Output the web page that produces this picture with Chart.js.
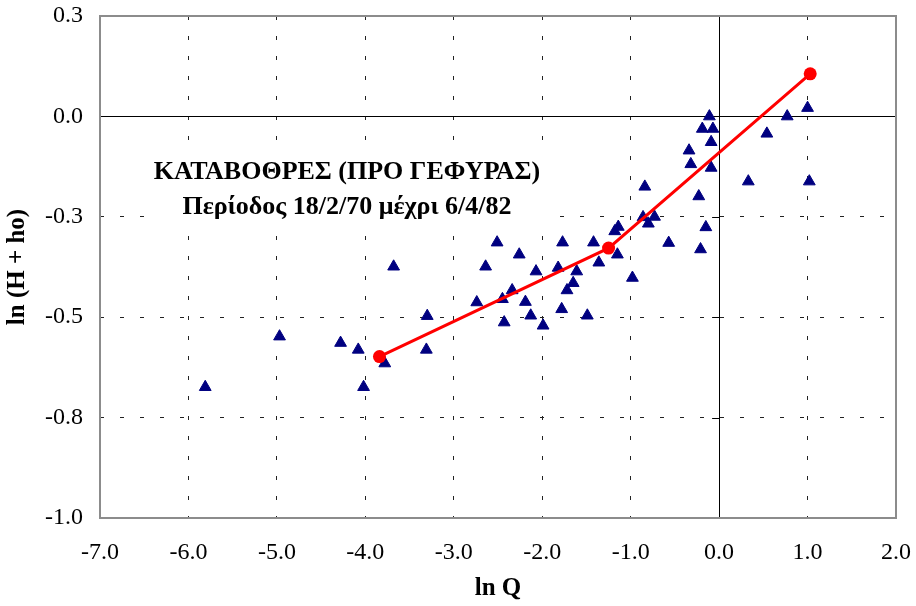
<!DOCTYPE html>
<html>
<head>
<meta charset="utf-8">
<script src="https://cdn.jsdelivr.net/npm/chart.js@4.4.1/dist/chart.umd.min.js"></script>
<style>
  html, body { margin: 0; padding: 0; background: #fff; }
  canvas { display: block; }
</style>
</head>
<body>
<canvas id="chart" width="916" height="606"></canvas>
<script>
// measured points (ln Q, ln(H + ho))
const lnQ = [-5.81, -4.97, -4.28, -4.08, -4.02, -3.78, -3.68, -3.30, -3.31, -2.74,
  -2.64, -2.51, -2.45, -2.43, -2.34, -2.26, -2.19, -2.13, -2.07, -1.99,
  -1.82, -1.77, -1.78, -1.72, -1.65, -1.61, -1.49, -1.42, -1.36, -1.18,
  -1.14, -1.15, -0.98, -0.86, -0.84, -0.80, -0.73, -0.57, -0.34, -0.32,
  -0.23, -0.21, -0.15, -0.19, -0.11, -0.07, -0.09, -0.09, 0.33, 0.54,
  0.77, 1.00, 1.02];
const lnH = [-0.674, -0.548, -0.564, -0.581, -0.674, -0.615, -0.374, -0.497, -0.581, -0.463,
  -0.374, -0.314, -0.455, -0.513, -0.433, -0.344, -0.462, -0.496, -0.386, -0.521,
  -0.377, -0.314, -0.480, -0.433, -0.415, -0.386, -0.496, -0.314, -0.364, -0.286,
  -0.275, -0.344, -0.402, -0.251, -0.175, -0.267, -0.250, -0.315, -0.085, -0.119,
  -0.199, -0.331, -0.276, -0.031, 0.000, -0.031, -0.064, -0.128, -0.162, -0.043,
  0.000, 0.021, -0.162];

// fitted two-segment line
const fitX = [-3.84, -1.25, 1.03];
const fitY = [-0.598, -0.328, 0.106];

const xTicks = [-7, -6, -5, -4, -3, -2, -1, 0, 1, 2];
const yTicks = [0.25, 0, -0.25, -0.5, -0.75, -1];

const titleLines = ['ΚΑΤΑΒΟΘΡΕΣ (ΠΡΟ ΓΕΦΥΡΑΣ)', 'Περίοδος 18/2/70 μέχρι 6/4/82'];

const FONT = '"Liberation Serif", "Times New Roman", serif';

const toPoints = (xs, ys) => xs.map((x, i) => ({ x: x, y: ys[i] }));

// frame, zero axes and the caption box
const decorations = {
  id: 'decorations',
  beforeDatasetsDraw(chart) {
    const { ctx, chartArea: a, scales: { x, y } } = chart;
    const x0 = x.getPixelForValue(0);
    const y0 = y.getPixelForValue(0);
    ctx.save();

    // caption with white background
    ctx.fillStyle = '#fff';
    ctx.fillRect(145, 140, 407, 88);
    ctx.fillStyle = '#000';
    ctx.font = 'bold 26px ' + FONT;
    ctx.textAlign = 'center';
    ctx.textBaseline = 'middle';
    ctx.fillText(titleLines[0], 347, 172);
    ctx.fillText(titleLines[1], 347, 207);

    // zero lines
    ctx.strokeStyle = '#000';
    ctx.lineWidth = 1;
    ctx.beginPath();
    ctx.moveTo(a.left, Math.round(y0) + 0.5);
    ctx.lineTo(a.right, Math.round(y0) + 0.5);
    ctx.moveTo(Math.round(x0) + 0.5, a.top);
    ctx.lineTo(Math.round(x0) + 0.5, a.bottom);
    yTicks.forEach(v => {
      const py = Math.round(y.getPixelForValue(v)) + 0.5;
      ctx.moveTo(x0 - 7, py);
      ctx.lineTo(x0, py);
    });
    ctx.stroke();

    // plot frame
    ctx.strokeStyle = '#8c8c8c';
    ctx.lineWidth = 2;
    ctx.strokeRect(a.left, a.top, a.right - a.left, a.bottom - a.top);
    ctx.restore();
  }
};

const gridColor = (ctx, edges) => {
  const v = ctx.tick ? ctx.tick.value : null;
  return edges.includes(v) ? 'rgba(0,0,0,0)' : '#222';
};

new Chart(document.getElementById('chart'), {
  type: 'scatter',
  data: {
    datasets: [
      {
        type: 'line',
        data: toPoints(fitX, fitY),
        showLine: true,
        borderColor: '#ff0000',
        borderWidth: 3,
        pointRadius: 6.5,
        pointBackgroundColor: '#ff0000',
        pointBorderWidth: 0,
        tension: 0
      },
      {
        data: toPoints(lnQ, lnH),
        pointStyle: 'triangle',
        pointRadius: 6.8,
        pointBackgroundColor: '#000080',
        pointBorderColor: '#000080',
        pointBorderWidth: 1
      }
    ]
  },
  options: {
    responsive: false,
    devicePixelRatio: 1,
    animation: false,
    layout: { padding: { top: 16, right: 20, left: 0, bottom: 0 } },
    plugins: { legend: { display: false }, tooltip: { enabled: false } },
    scales: {
      x: {
        type: 'linear',
        min: xTicks[0],
        max: xTicks[xTicks.length - 1],
        afterBuildTicks: s => { s.ticks = xTicks.map(v => ({ value: v })); },
        afterFit: s => { s.height = 88; s.paddingLeft = 0; s.paddingRight = 0; },
        ticks: {
          callback: v => v.toFixed(1),
          color: '#000',
          font: { family: FONT, size: 24 },
          padding: 20,
          maxRotation: 0
        },
        grid: {
          color: c => gridColor(c, [-7, 0, 2]),
          lineWidth: 1,
          drawTicks: false
        },
        border: { display: false, dash: [4, 16] },
        title: {
          display: true,
          text: 'ln Q',
          color: '#000',
          font: { family: FONT, size: 25, weight: 'bold' },
          padding: { top: 0, bottom: 2 }
        }
      },
      y: {
        type: 'linear',
        min: yTicks[yTicks.length - 1],
        max: yTicks[0],
        afterBuildTicks: s => { s.ticks = yTicks.slice().reverse().map(v => ({ value: v })); },
        afterFit: s => { s.width = 100; s.paddingTop = 0; s.paddingBottom = 0; },
        ticks: {
          callback: v => v.toFixed(1),
          color: '#000',
          font: { family: FONT, size: 24 },
          padding: 17
        },
        grid: {
          color: c => gridColor(c, [0.25, 0, -1]),
          lineWidth: 1,
          drawTicks: false
        },
        border: { display: false, dash: [4, 16] },
        title: {
          display: true,
          text: 'ln (H + ho)',
          color: '#000',
          font: { family: FONT, size: 25, weight: 'bold' },
          padding: { top: 3, bottom: 0 }
        }
      }
    }
  },
  plugins: [decorations]
});
</script>
</body>
</html>
